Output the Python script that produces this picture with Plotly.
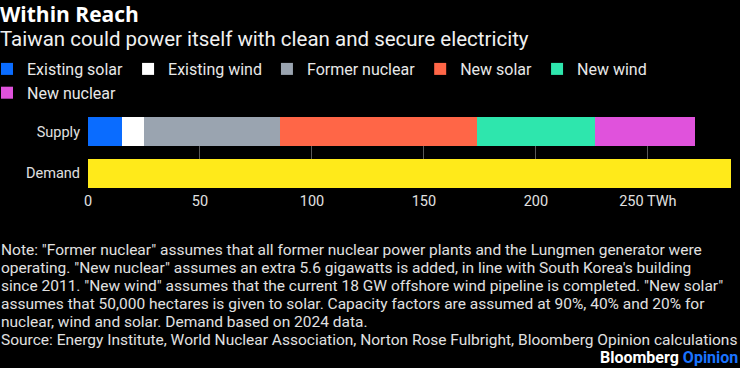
import plotly.graph_objects as go

# ---- data ----
categories = ["Demand", "Supply"]
supply_labels = ["Existing solar", "Existing wind", "Former nuclear",
                 "New solar", "New wind", "New nuclear"]
supply_values = [15.0, 10.2, 60.7, 87.7, 52.7, 44.9]
supply_colors = ["#0a6cff", "#ffffff", "#9aa4b0", "#ff6647", "#2ee6ad", "#e052dc"]
demand_value = 287.3
demand_color = "#ffea1a"
tick_vals = [0, 50, 100, 150, 200, 250]
tick_text = ["0", "50", "100", "150", "200", "250 TWh"]

title = "Within Reach"
subtitle = "Taiwan could power itself with clean and secure electricity"
note_lines = [
    'Note: "Former nuclear" assumes that all former nuclear power plants and the Lungmen generator were',
    'operating. "New nuclear" assumes an extra 5.6 gigawatts is added, in line with South Korea\'s building',
    'since 2011. "New wind" assumes that the current 18 GW offshore wind pipeline is completed. "New solar"',
    'assumes that 50,000 hectares is given to solar. Capacity factors are assumed at 90%, 40% and 20% for',
    'nuclear, wind and solar. Demand based on 2024 data.',
    'Source: Energy Institute, World Nuclear Association, Norton Rose Fulbright, Bloomberg Opinion calculations',
]

W, H = 740, 368
ML, MR, MT, MB = 88, 7, 117, 180
FONT = "Roboto, 'Liberation Sans', sans-serif"

fig = go.Figure()
for lab, val, col in zip(supply_labels, supply_values, supply_colors):
    fig.add_trace(go.Bar(
        y=["Supply"], x=[val], name=lab, orientation="h", legendgroup=lab,
        marker=dict(color=col, line=dict(width=0)),
    ))
fig.add_trace(go.Bar(
    y=["Demand"], x=[demand_value], name="Demand", orientation="h",
    marker=dict(color=demand_color, line=dict(width=0)), showlegend=False,
))

pw = W - ML - MR
ph = H - MT - MB


def px2x(px):
    return (px - ML) / pw


def py2y(py):
    return (H - MB - py) / ph


header = (f"<span style='font-family:Open Sans;font-size:21px;color:#ffffff'><b>{title}</b></span>"
          f"<br><span style='font-size:20.5px;color:#f0f0f0'>{subtitle}</span>")

annotations = [
    dict(text=header, x=px2x(-1), y=py2y(25), xanchor="left", yanchor="middle",
         align="left", borderpad=0, font=dict(size=18.5, color="#f0f0f0", family=FONT)),
    dict(text="<b>Bloomberg <span style='color:#1a73ff'>Opinion</span></b>",
         x=px2x(740), y=py2y(357), xanchor="right", yanchor="middle",
         font=dict(size=16, color="#ffffff", family=FONT)),
]
for i, line in enumerate(note_lines):
    annotations.append(dict(text=line, x=px2x(-1), y=py2y(250 + 18 * i),
                            xanchor="left", yanchor="middle", align="left",
                            font=dict(size=15.5, color="#e0e0e0", family=FONT)))
for a in annotations:
    a.update(xref="paper", yref="paper", showarrow=False)

fig.update_layout(
    width=W, height=H,
    margin=dict(l=ML, r=MR, t=MT, b=MB, pad=0, autoexpand=False),
    paper_bgcolor="#000000", plot_bgcolor="#000000",
    barmode="stack", bargap=0.3,
    font=dict(family=FONT, color="#e0e0e0", size=14),
    showlegend=True,
    legend=dict(orientation="h", xref="paper", yref="paper",
                x=px2x(-13), y=py2y(52), xanchor="left", yanchor="top",
                font=dict(size=16, color="#e8e8e8", family=FONT),
                bgcolor="rgba(0,0,0,0)", itemwidth=30, traceorder="grouped",
                tracegroupgap=0),
    xaxis=dict(range=[0, 288], tickvals=tick_vals, ticktext=tick_text, automargin=False,
               showgrid=True, gridcolor="#5a5a5a", gridwidth=1, zeroline=False,
               showline=False, ticks="", ticklabelstandoff=2,
               tickfont=dict(size=14.5, color="#e0e0e0")),
    yaxis=dict(range=[-0.35, 1.35], categoryorder="array", categoryarray=categories,
               automargin=False, showgrid=False, zeroline=False, showline=False, ticks="",
               ticklabelstandoff=7, tickfont=dict(size=14.5, color="#e0e0e0")),
    annotations=annotations,
)

fig.write_html("out.html", config={"displayModeBar": False},
               post_script="document.body.style.margin='0';document.body.style.background='#000';")
